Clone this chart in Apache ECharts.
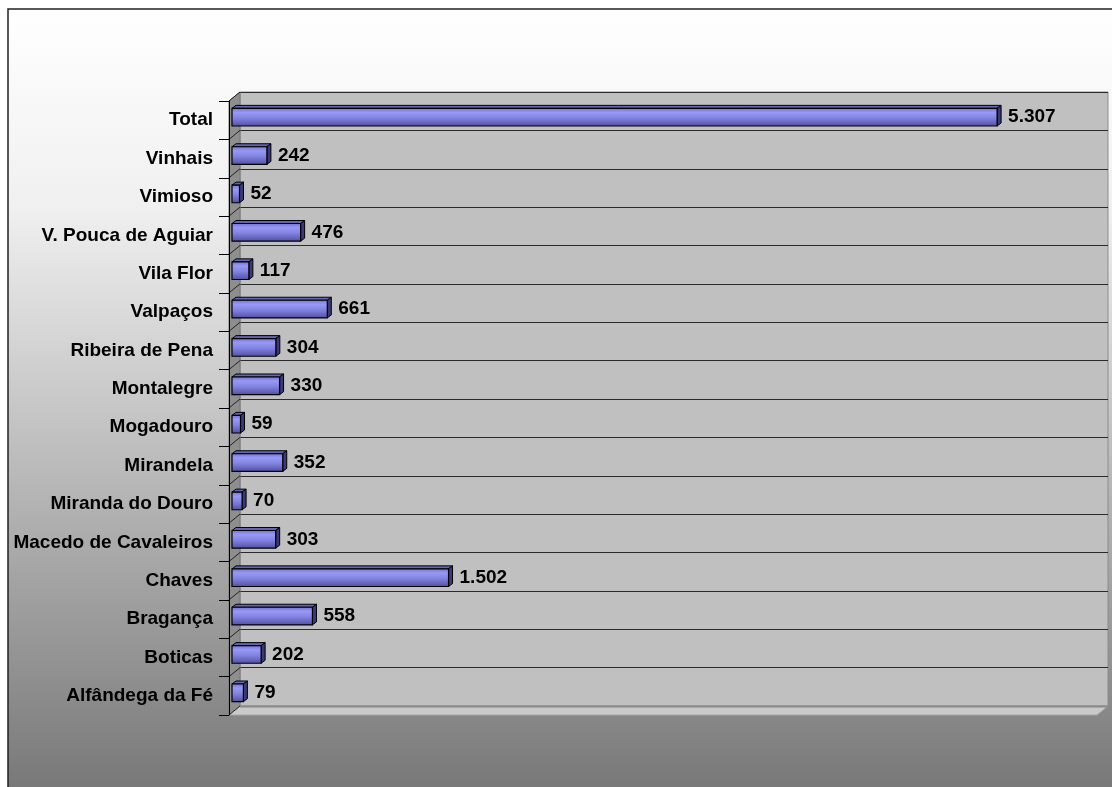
<!DOCTYPE html>
<html>
<head>
<meta charset="utf-8">
<script src="https://cdn.jsdelivr.net/npm/echarts@6/dist/echarts.min.js"></script>
<style>
html,body{margin:0;padding:0;background:#fff;}
#chart{width:1112px;height:787px;}
</style>
</head>
<body>
<div id="chart"></div>
<script>
// Categories listed bottom-to-top (as in the source chart)
const categories = ["Alfândega da Fé","Boticas","Bragança","Chaves","Macedo de Cavaleiros","Miranda do Douro","Mirandela","Mogadouro","Montalegre","Ribeira de Pena","Valpaços","Vila Flor","V. Pouca de Aguiar","Vimioso","Vinhais","Total"];
const values = [79,202,558,1502,303,70,352,59,330,304,661,117,476,52,242,5307];
const xMax = 6000;

// layout constants (styling only)
const FL = 229, FT = 101, FR = 1097, FB = 715;   // front plane
const ZERO_SHIFT = 3;                            // bars start slightly right of the wall
const DX = 11, DY = -9;                          // wall depth
const FONT = '"Liberation Sans", Arial, sans-serif';

function fmt(v){ return String(v).replace(/\B(?=(\d{3})+(?!\d))/g, '.'); }

const chart = echarts.init(document.getElementById('chart'), null, {renderer:'canvas'});

const n = categories.length;
const bandH = (FB - FT) / n;
const graphics = [];
// outer frame with gradient
graphics.push({type:'rect', z:-10, shape:{x:8, y:9, width:1112, height:790},
  style:{fill:{type:'linear',x:0,y:0,x2:0,y2:1,colorStops:[{offset:0,color:'#ffffff'},{offset:0.25,color:'#f0f0f0'},{offset:1,color:'#767676'}]},
  stroke:'#222', lineWidth:1.5}});
// left wall
graphics.push({type:'polygon', z:1, shape:{points:[[FL,FT],[FL+DX,FT+DY],[FL+DX,FB+DY],[FL,FB]]},
  style:{fill:'#8e8e8e', stroke:'#777', lineWidth:1}});
// floor
graphics.push({type:'polygon', z:1, shape:{points:[[FL,FB],[FR,FB],[FR+DX,FB+DY],[FL+DX,FB+DY]]},
  style:{fill:'#c9c9c9', stroke:'#a8a8a8', lineWidth:1}});
graphics.push({type:'line', z:1, shape:{x1:FL+DX,y1:FB+DY+0.5,x2:FR+DX,y2:FB+DY+0.5}, style:{stroke:'#8a8a8a', lineWidth:2}});
// diagonal lines on the left wall at category boundaries
for (let k = 0; k <= n; k++) {
  const y = FT + k * bandH;
  graphics.push({type:'line', z:2, shape:{x1:FL, y1:y, x2:FL+DX, y2:y+DY}, style:{stroke:'#222', lineWidth:1}});
}

const frontGrad = {type:'linear',x:0,y:0,x2:0,y2:1,colorStops:[
  {offset:0,color:'#7070cc'},{offset:0.25,color:'#9898f6'},{offset:0.55,color:'#8282e0'},{offset:1,color:'#4e4e9c'}]};

function renderItem(params, api){
  const v = api.value(0), c = api.value(1);
  const p0 = api.coord([0, c]);
  const p1 = api.coord([v, c]);
  const band = api.size([0, 1])[1];
  const h = band * 0.46;
  const cy = p0[1] - 3;
  const x0 = p0[0], x1 = p1[0];
  const top = cy - h/2, bot = cy + h/2;
  const dx = 4, dy = -3;
  return {type:'group', children:[
    {type:'polygon', shape:{points:[[x0,top],[x0+dx,top+dy],[x1+dx,top+dy],[x1,top]]}, style:{fill:'#6464b8', stroke:'#000', lineWidth:1}},
    {type:'polygon', shape:{points:[[x1,top],[x1+dx,top+dy],[x1+dx,bot+dy],[x1,bot]]}, style:{fill:'#3a3a78', stroke:'#000', lineWidth:1}},
    {type:'rect', shape:{x:x0, y:top, width:Math.max(x1-x0,1), height:h}, style:{fill:frontGrad, stroke:'#000', lineWidth:1.2}},
    {type:'text', style:{text:fmt(v), x:x1+dx+7, y:cy, verticalAlign:'middle', align:'left', fill:'#000', font:'bold 19px ' + FONT}}
  ]};
}

const option = {
  animation:false,
  backgroundColor:'#ffffff',
  graphic: graphics,
  grid:[
    {id:'back', left:FL+DX, top:FT+DY, right:1112-(FR+DX), bottom:787-(FB+DY), show:true, backgroundColor:'#c0c0c0', borderColor:'#8c8c8c', borderWidth:1, z:0},
    {id:'front', left:FL, top:FT, right:1112-FR, bottom:787-FB, show:false},
    {id:'bars', left:FL+ZERO_SHIFT, top:FT, right:1112-FR, bottom:787-FB, show:false}
  ],
  xAxis:[
    {gridIndex:0, type:'value', min:0, max:xMax, show:false},
    {gridIndex:1, type:'value', min:0, max:xMax, show:false},
    {gridIndex:2, type:'value', min:0, max:xMax, show:false}
  ],
  yAxis:[
    {gridIndex:0, type:'category', data:categories, axisLabel:{show:false}, axisTick:{show:false}, axisLine:{show:false},
     splitLine:{show:true, lineStyle:{color:'#2a2a2a', width:1}}},
    {gridIndex:1, type:'category', data:categories, z:6,
     axisLine:{show:true, lineStyle:{color:'#000', width:1}},
     axisTick:{show:true, length:10, lineStyle:{color:'#000', width:1}},
     axisLabel:{color:'#000', fontWeight:'bold', fontSize:19, fontFamily:FONT, margin:16},
     splitLine:{show:false}},
    {gridIndex:2, type:'category', data:categories, show:false}
  ],
  series:[{
    type:'custom', xAxisIndex:2, yAxisIndex:2, z:5,
    renderItem: renderItem,
    encode:{x:0, y:1},
    data: values.map((v,i)=>[v,i])
  }]
};
chart.setOption(option);
</script>
</body>
</html>
